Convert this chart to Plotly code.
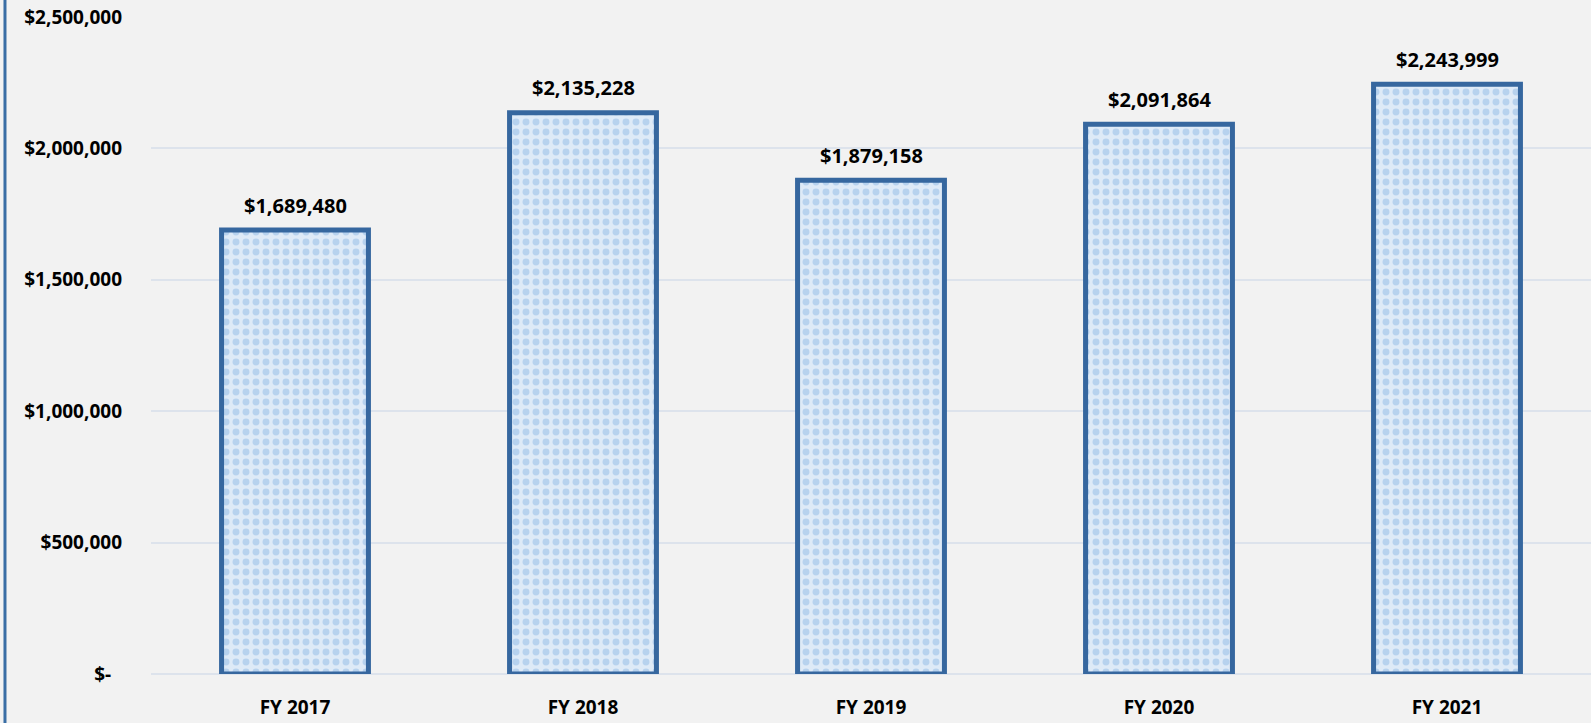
import plotly.graph_objects as go

categories = ["FY 2017", "FY 2018", "FY 2019", "FY 2020", "FY 2021"]
values = [1689480, 2135228, 1879158, 2091864, 2243999]
tick_vals = [0, 500000, 1000000, 1500000, 2000000, 2500000]
tick_text = ["$-\u2007", "$500,000", "$1,000,000", "$1,500,000", "$2,000,000", "$2,500,000"]
labels = ["${:,}".format(v) for v in values]

FONT = "'Open Sans', sans-serif"
fig = go.Figure()
fig.add_trace(go.Bar(
    x=categories, y=values,
    marker=dict(
        color="#deeaf7",
        line=dict(color="#36679f", width=5),
        pattern=dict(shape=".", fgcolor="#8fb9e6", bgcolor="#deeaf7", size=10, solidity=0.38),
    ),
    width=0.51,
    hoverinfo="skip",
))
for c, v, t in zip(categories, values, labels):
    fig.add_annotation(x=c, y=v, text="<b>%s</b>" % t, showarrow=False,
                       yanchor="middle", yshift=25,
                       font=dict(family=FONT, size=20, color="#000000"))

fig.add_shape(type="line", xref="paper", yref="paper", x0=-0.1014, x1=-0.1014, y0=-0.08, y1=1.03,
              line=dict(color="#3a6ea5", width=3))

fig.update_layout(
    width=1591, height=723,
    margin=dict(l=151, r=0, t=17, b=49),
    paper_bgcolor="#f2f2f2", plot_bgcolor="#f2f2f2",
    showlegend=False,
    bargap=0.49,
    xaxis=dict(tickfont=dict(family=FONT, size=19, color="#000000"),
               ticks="", showgrid=False, showline=False, ticklabelstandoff=20,
               tickvals=categories, ticktext=["<b>%s</b>" % c for c in categories]),
    yaxis=dict(range=[0, 2500000], tickvals=tick_vals,
               ticktext=["<b>%s</b>" % t for t in tick_text],
               tickfont=dict(family=FONT, size=19, color="#000000"),
               showgrid=True, gridcolor="#dde3ec", gridwidth=2,
               zeroline=True, zerolinecolor="#dde3ec", zerolinewidth=2,
               ticks="", ticklabelstandoff=28, showline=False),
)
fig.write_html("out.html", config={"displayModeBar": False},
               post_script="document.body.style.margin='0';")
